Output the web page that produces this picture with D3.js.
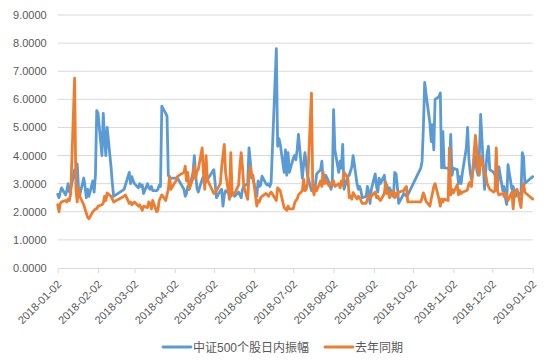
<!DOCTYPE html>
<html><head><meta charset="utf-8">
<script src="https://cdn.jsdelivr.net/npm/d3@7"></script>
<style>body{margin:0;background:#fff;}svg{display:block;}</style>
</head><body>
<svg id="chart" width="553" height="360"></svg>
<script>
const tradingDates = [
"2018-01-02","2018-01-03","2018-01-04","2018-01-05","2018-01-08","2018-01-09","2018-01-10","2018-01-11","2018-01-12","2018-01-15","2018-01-16","2018-01-17","2018-01-18","2018-01-19","2018-01-22","2018-01-23","2018-01-24","2018-01-25","2018-01-26","2018-01-29","2018-01-30","2018-01-31",
"2018-02-01","2018-02-02","2018-02-05","2018-02-06","2018-02-07","2018-02-08","2018-02-09","2018-02-12","2018-02-13","2018-02-14","2018-02-22","2018-02-23","2018-02-26","2018-02-27","2018-02-28",
"2018-03-01","2018-03-02","2018-03-05","2018-03-06","2018-03-07","2018-03-08","2018-03-09","2018-03-12","2018-03-13","2018-03-14","2018-03-15","2018-03-16","2018-03-19","2018-03-20","2018-03-21","2018-03-22","2018-03-23","2018-03-26","2018-03-27","2018-03-28","2018-03-29","2018-03-30",
"2018-04-02","2018-04-03","2018-04-04","2018-04-09","2018-04-10","2018-04-11","2018-04-12","2018-04-13","2018-04-16","2018-04-17","2018-04-18","2018-04-19","2018-04-20","2018-04-23","2018-04-24","2018-04-25","2018-04-26","2018-04-27",
"2018-05-02","2018-05-03","2018-05-04","2018-05-07","2018-05-08","2018-05-09","2018-05-10","2018-05-11","2018-05-14","2018-05-15","2018-05-16","2018-05-17","2018-05-18","2018-05-21","2018-05-22","2018-05-23","2018-05-24","2018-05-25","2018-05-28","2018-05-29","2018-05-30","2018-05-31",
"2018-06-01","2018-06-04","2018-06-05","2018-06-06","2018-06-07","2018-06-08","2018-06-11","2018-06-12","2018-06-13","2018-06-14","2018-06-15","2018-06-19","2018-06-20","2018-06-21","2018-06-22","2018-06-25","2018-06-26","2018-06-27","2018-06-28","2018-06-29",
"2018-07-02","2018-07-03","2018-07-04","2018-07-05","2018-07-06","2018-07-09","2018-07-10","2018-07-11","2018-07-12","2018-07-13","2018-07-16","2018-07-17","2018-07-18","2018-07-19","2018-07-20","2018-07-23","2018-07-24","2018-07-25","2018-07-26","2018-07-27","2018-07-30","2018-07-31",
"2018-08-01","2018-08-02","2018-08-03","2018-08-06","2018-08-07","2018-08-08","2018-08-09","2018-08-10","2018-08-13","2018-08-14","2018-08-15","2018-08-16","2018-08-17","2018-08-20","2018-08-21","2018-08-22","2018-08-23","2018-08-24","2018-08-27","2018-08-28","2018-08-29","2018-08-30","2018-08-31",
"2018-09-03","2018-09-04","2018-09-05","2018-09-06","2018-09-07","2018-09-10","2018-09-11","2018-09-12","2018-09-13","2018-09-14","2018-09-17","2018-09-18","2018-09-19","2018-09-20","2018-09-21","2018-09-25","2018-09-26","2018-09-27","2018-09-28",
"2018-10-08","2018-10-09","2018-10-10","2018-10-11","2018-10-12","2018-10-15","2018-10-16","2018-10-17","2018-10-18","2018-10-19","2018-10-22","2018-10-23","2018-10-24","2018-10-25","2018-10-26","2018-10-29","2018-10-30","2018-10-31",
"2018-11-01","2018-11-02","2018-11-05","2018-11-06","2018-11-07","2018-11-08","2018-11-09","2018-11-12","2018-11-13","2018-11-14","2018-11-15","2018-11-16","2018-11-19","2018-11-20","2018-11-21","2018-11-22","2018-11-23","2018-11-26","2018-11-27","2018-11-28","2018-11-29","2018-11-30",
"2018-12-03","2018-12-04","2018-12-05","2018-12-06","2018-12-07","2018-12-10","2018-12-11","2018-12-12","2018-12-13","2018-12-14","2018-12-17","2018-12-18","2018-12-19","2018-12-20","2018-12-21","2018-12-24","2018-12-25","2018-12-26","2018-12-27","2018-12-28","2019-01-02"
];

const amplitude2018 = [
2.62,2.50,2.70,2.85,2.60,2.75,3.00,2.70,2.80,3.50,3.20,3.70,2.80,2.60,3.20,2.90,2.50,2.80,2.55,3.10,2.70,3.30,
5.60,5.50,4.00,5.50,4.60,4.00,5.00,3.60,3.00,2.55,2.80,2.95,3.40,3.00,3.25,
3.10,3.00,2.85,3.00,2.90,2.95,2.65,3.00,2.85,2.80,2.90,2.75,2.75,2.80,2.95,2.90,5.76,5.50,5.40,3.30,3.20,3.20,
3.20,3.20,3.20,2.80,2.55,2.65,2.90,2.80,3.40,4.00,3.30,2.85,2.70,3.15,3.25,3.00,3.10,3.15,
3.50,3.00,2.50,2.75,2.80,2.20,2.60,2.75,2.65,2.55,2.70,2.60,2.55,2.70,2.60,2.50,2.80,2.90,3.00,4.27,3.80,3.20,
3.20,2.55,3.10,2.90,2.95,3.27,3.00,2.95,3.00,2.90,3.05,7.80,4.33,4.60,4.40,3.40,4.20,3.30,4.10,3.40,
3.90,4.00,3.85,4.20,4.75,3.20,3.70,4.10,3.70,3.30,2.75,2.80,2.85,2.95,3.35,3.50,3.80,3.05,3.15,3.30,3.00,2.80,
3.00,5.63,4.20,3.40,3.80,3.55,4.40,2.80,3.27,3.30,3.45,3.60,4.00,3.00,2.80,2.90,2.75,2.50,2.55,2.90,2.70,2.30,2.80,
3.35,2.90,2.70,3.20,3.00,3.30,2.80,2.95,2.70,2.85,2.55,3.40,3.35,2.90,2.30,2.65,2.60,2.55,2.60,
3.55,3.80,5.00,6.60,6.20,5.16,4.50,5.10,4.20,6.00,6.10,6.23,3.56,4.85,3.56,3.55,3.45,4.75,
3.30,3.55,3.50,3.00,3.25,3.00,3.40,4.27,5.00,3.86,3.40,3.15,3.98,3.50,3.30,4.00,5.46,2.80,3.50,4.10,4.33,3.50,
3.40,3.30,3.05,2.90,3.60,2.75,2.90,2.50,2.26,3.68,2.80,2.90,2.60,2.55,2.70,2.60,4.10,3.95,3.00,3.05,3.25
];

const amplitudeLastYear = [
2.25,2.00,2.30,2.35,2.40,2.35,2.45,2.40,2.65,6.75,2.80,2.35,2.85,2.55,2.25,2.10,1.95,1.80,1.75,2.00,2.05,2.10,
2.10,2.20,2.25,2.30,2.55,2.40,2.67,2.55,2.45,2.35,2.55,2.60,2.30,2.35,2.25,
2.30,2.35,2.20,2.25,2.15,2.05,2.20,2.15,2.35,2.30,2.10,2.40,2.00,2.05,2.40,2.50,2.60,2.40,2.60,2.80,3.26,2.80,
3.04,3.10,3.26,3.40,3.62,3.10,3.40,2.80,3.20,3.62,3.20,3.45,3.50,4.27,3.40,2.80,4.00,3.14,
2.65,2.70,2.75,3.00,3.60,4.00,4.40,3.40,2.44,4.10,2.70,2.60,2.65,2.95,3.60,4.10,3.60,2.90,2.44,3.30,3.60,3.30,
3.30,2.20,2.40,2.35,2.50,2.55,2.65,2.60,2.55,2.65,2.70,2.40,2.85,2.80,2.75,2.15,2.10,2.05,2.20,2.10,
2.10,2.30,2.40,2.45,2.60,2.75,3.15,2.75,2.80,3.00,6.22,2.80,2.60,2.90,2.75,3.10,2.90,3.40,3.00,3.10,2.90,3.00,
3.00,3.10,2.90,3.00,2.85,3.10,2.95,3.40,3.20,2.50,2.56,2.45,2.68,2.45,2.55,2.50,2.40,2.30,2.30,2.45,2.60,2.50,2.55,
2.70,2.50,2.55,2.45,2.40,2.65,3.05,2.65,2.75,2.50,2.75,2.50,2.65,2.55,2.70,2.75,2.85,2.90,2.35,
2.35,2.50,2.67,2.55,2.37,2.20,2.45,2.67,2.90,3.00,2.45,2.20,2.45,2.35,2.45,2.40,4.27,2.60,
2.80,2.67,2.96,2.60,2.75,2.65,2.70,2.75,2.80,3.00,3.05,2.90,4.72,4.20,3.50,3.30,3.98,3.40,3.30,3.00,2.90,2.80,
2.70,2.75,4.27,2.73,2.60,2.65,2.55,2.67,2.50,2.40,2.70,2.10,2.67,2.75,2.80,2.15,2.80,3.00,2.70,2.65,2.45
];

const seriesNames = ["中证500个股日内振幅", "去年同期"];
const seriesColors = ["#5b9bd5", "#ed7d31"];
const yTicks = [0,1,2,3,4,5,6,7,8,9];
const xTickDates = ["2018-01-02","2018-02-02","2018-03-02","2018-04-02","2018-05-02","2018-06-02","2018-07-02","2018-08-02","2018-09-02","2018-10-02","2018-11-02","2018-12-02","2019-01-02"];

(function () {
const parse = d3.timeParse("%Y-%m-%d");
const fmt = d3.timeFormat("%Y-%m-%d");
const svg = d3.select("#chart");
const mLeft = 57.7, mRight = 532.7, mTop = 15, mBottom = 268;

const x = d3.scaleTime().domain([parse("2018-01-02"), parse("2019-01-02")]).range([mLeft, mRight]);
const y = d3.scaleLinear().domain([0, 9]).range([mBottom, mTop]);

const textColor = "#595959";
const font = "'Liberation Sans', Arial, sans-serif";

svg.append("g").selectAll("line").data(yTicks.filter(v => v > 0)).join("line")
  .attr("x1", mLeft).attr("x2", mRight)
  .attr("y1", d => y(d)).attr("y2", d => y(d))
  .attr("stroke", "#d9d9d9").attr("stroke-width", 1);

const yAxis = d3.axisLeft(y).tickValues(yTicks).tickFormat(d3.format(".4f")).tickSize(0).tickPadding(11);
const gy = svg.append("g").attr("transform", `translate(${mLeft},0)`).call(yAxis);
gy.select(".domain").remove();
gy.selectAll("text").attr("fill", textColor).style("font-family", font).style("font-size", "11px");

const xAxis = d3.axisBottom(x).tickValues(xTickDates.map(parse)).tickFormat(fmt).tickSize(5).tickSizeOuter(0);
const gx = svg.append("g").attr("transform", `translate(0,${mBottom})`).call(xAxis);
gx.select(".domain").attr("stroke", "#d9d9d9");
gx.selectAll(".tick line").attr("stroke", "#d9d9d9");
gx.selectAll(".tick text")
  .attr("fill", textColor).style("font-family", font).style("font-size", "11px")
  .attr("text-anchor", "end")
  .attr("x", 0).attr("y", 0).attr("dy", 0)
  .attr("transform", "translate(4,17) rotate(-45)");

const seriesData = [amplitude2018, amplitudeLastYear];
const n = Math.min(tradingDates.length, amplitude2018.length, amplitudeLastYear.length);
const line = d3.line().x(d => x(d[0])).y(d => y(d[1]));
seriesData.forEach((vals, i) => {
  const pts = tradingDates.slice(0, n).map((d, j) => [parse(d), vals[j]]);
  svg.append("path").datum(pts)
    .attr("d", line)
    .attr("fill", "none")
    .attr("stroke", seriesColors[i])
    .attr("stroke-width", 2.8)
    .attr("stroke-linejoin", "round")
    .attr("stroke-linecap", "round");
});

const legendX = [163, 325];
const lg = svg.append("g");
seriesNames.forEach((name, i) => {
  lg.append("line").attr("x1", legendX[i]).attr("x2", legendX[i] + 28)
    .attr("y1", 347).attr("y2", 347)
    .attr("stroke", seriesColors[i]).attr("stroke-width", 2.8)
    .attr("stroke-linecap", "round");
  lg.append("text").attr("x", legendX[i] + 30).attr("y", 351.5)
    .attr("fill", textColor)
    .style("font-family", "'Liberation Sans','Noto Sans CJK SC',sans-serif")
    .style("font-size", "12px")
    .text(name);
});
})();
</script>
</body></html>
